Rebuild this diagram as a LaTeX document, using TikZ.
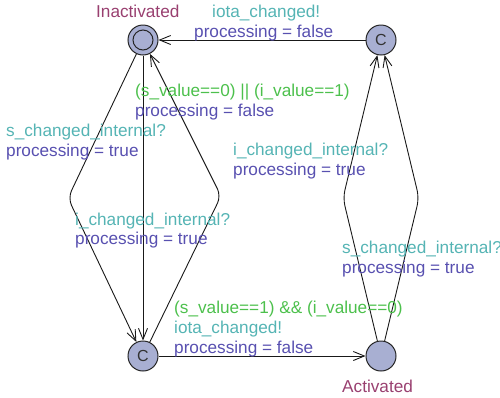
\documentclass[tikz,border=0pt]{standalone}
\usepackage{fontspec}
\setmainfont{Liberation Sans}
\usetikzlibrary{arrows.meta}
\definecolor{guardc}{HTML}{4CC04C}
\definecolor{syncc}{HTML}{55B4B4}
\definecolor{assignc}{HTML}{5850B0}
\definecolor{namec}{HTML}{994070}
\definecolor{locfill}{HTML}{A8AFD2}
\begin{document}
\begin{tikzpicture}[x=1pt,y=-1pt,
  loc/.style={circle,draw=black!85,line width=1pt,fill=locfill,minimum size=30pt,inner sep=0pt,
    font=\fontsize{16}{20}\selectfont, text=black!80},
  edge/.style={draw=black!90,line width=0.9pt,-{Straight Barb[length=11pt,width=9pt]},rounded corners=8pt},
  lbl/.style={anchor=base west,inner sep=0pt,font=\fontsize{17.2}{20}\selectfont},
  guard/.style={lbl,text=guardc},
  sync/.style={lbl,text=syncc},
  assign/.style={lbl,text=assignc},
  lname/.style={lbl,text=namec}
]
\useasboundingbox (0,0) rectangle (500,397);

% locations
\node[loc] (inact) at (143,40) {};
\draw[line width=1pt,draw=black!85] (inact.center) circle[radius=10pt];
\node[loc] (tc) at (381,40) {C};
\node[loc] (bc) at (143,356) {C};
\node[loc] (act) at (381,356) {};

\node[lname] (ninact) at (96,17) {Inactivated};
\node[lname] (nact) at (342,392) {Activated};

% edges
\draw[edge] (tc) -- (inact);
\draw[edge] (bc) -- (act);
\draw[edge] (inact) -- (bc);
\draw[edge] (inact) -- (68,198) -- (bc);
\draw[edge] (bc) -- (221,196) -- (inact);
\draw[edge] (act) -- (343,198) -- (tc);
\draw[edge] (act) -- (419,198) -- (tc);

% labels
\node[sync] (s1) at (212,17) {iota\_changed!};
\node[assign] (a1) at (194,37) {processing = false};

\node[guard] (g2) at (135,96) {(s\_value==0) || (i\_value==1)};
\node[assign] (a2) at (135,116) {processing = false};

\node[sync] (s3) at (6,136) {s\_changed\_internal?};
\node[assign] (a3) at (6,156) {processing = true};

\node[sync] (s4) at (75,225) {i\_changed\_internal?};
\node[assign] (a4) at (75,244) {processing = true};

\node[sync] (s5) at (233,155) {i\_changed\_internal?};
\node[assign] (a5) at (233,175) {processing = true};

\node[sync] (s6) at (342,253) {s\_changed\_internal?};
\node[assign] (a6) at (342,273) {processing = true};

\node[guard] (g7) at (174,313) {(s\_value==1) \&\& (i\_value==0)};
\node[sync] (s7) at (174,333) {iota\_changed!};
\node[assign] (a7) at (174,353) {processing = false};
\end{tikzpicture}
\end{document}
